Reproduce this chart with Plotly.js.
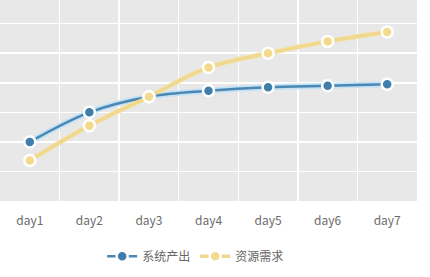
<!DOCTYPE html>
<html><head><meta charset="utf-8">
<script src="https://cdn.plot.ly/plotly-3.0.1.min.js"></script>
<style>html,body{margin:0;padding:0;background:#fff}</style>
</head><body><div id="chart" style="width:430px;height:277px"></div>
<script>
const days = ['day1','day2','day3','day4','day5','day6','day7'];
const output = [2.0, 3.0, 3.53, 3.73, 3.85, 3.9, 3.95];
const demand = [1.37, 2.55, 3.53, 4.52, 5.0, 5.4, 5.72];
const seriesNames = ['系统产出', '资源需求'];

const traces = [
  {x: days, y: output, mode: 'lines', line: {color: '#c4e2f3', width: 6, shape: 'spline'}, showlegend: false, hoverinfo: 'skip'},
  {x: days, y: demand, mode: 'lines', line: {color: '#f3e4b4', width: 5, shape: 'spline'}, showlegend: false, hoverinfo: 'skip'},
  {x: days, y: output, name: seriesNames[0], mode: 'lines+markers', line: {color: '#4a87b3', width: 2.5, shape: 'spline'},
   marker: {size: 11, color: '#3f7eab', line: {color: '#ffffff', width: 2.5}}},
  {x: days, y: demand, name: seriesNames[1], mode: 'lines+markers', line: {color: '#f0d88e', width: 3.5, shape: 'spline'},
   marker: {size: 11, color: '#f3da8c', line: {color: '#ffffff', width: 2.5}}}
];
const layout = {
  width: 430, height: 277,
  margin: {l: 0, r: 13, t: 0, b: 76},
  paper_bgcolor: '#ffffff', plot_bgcolor: '#e8e8e8',
  font: {family: '"Noto Sans CJK SC", "Open Sans", sans-serif', size: 12, color: '#666'},
  xaxis: {type: 'category', range: [-0.5, 6.5], tickson: 'boundaries', showgrid: true, gridcolor: '#ffffff', gridwidth: 1.5,
          zeroline: false, showline: false, ticks: '', ticklabelstandoff: 11, tickfont: {size: 12, color: '#6a6a6a'}, fixedrange: true},
  yaxis: {range: [0, 6.8], dtick: 1, showgrid: true, gridcolor: '#ffffff', gridwidth: 1.5, zeroline: false,
          showticklabels: false, ticks: '', fixedrange: true},
  legend: {orientation: 'h', xref: 'container', yref: 'container', x: 0.455, xanchor: 'center', y: 0.075, yanchor: 'middle',
           font: {size: 12, color: '#666'}, itemwidth: 30, bgcolor: 'rgba(0,0,0,0)'},
  showlegend: true
};
Plotly.newPlot('chart', traces, layout, {displayModeBar: false, staticPlot: true});
</script></body></html>
